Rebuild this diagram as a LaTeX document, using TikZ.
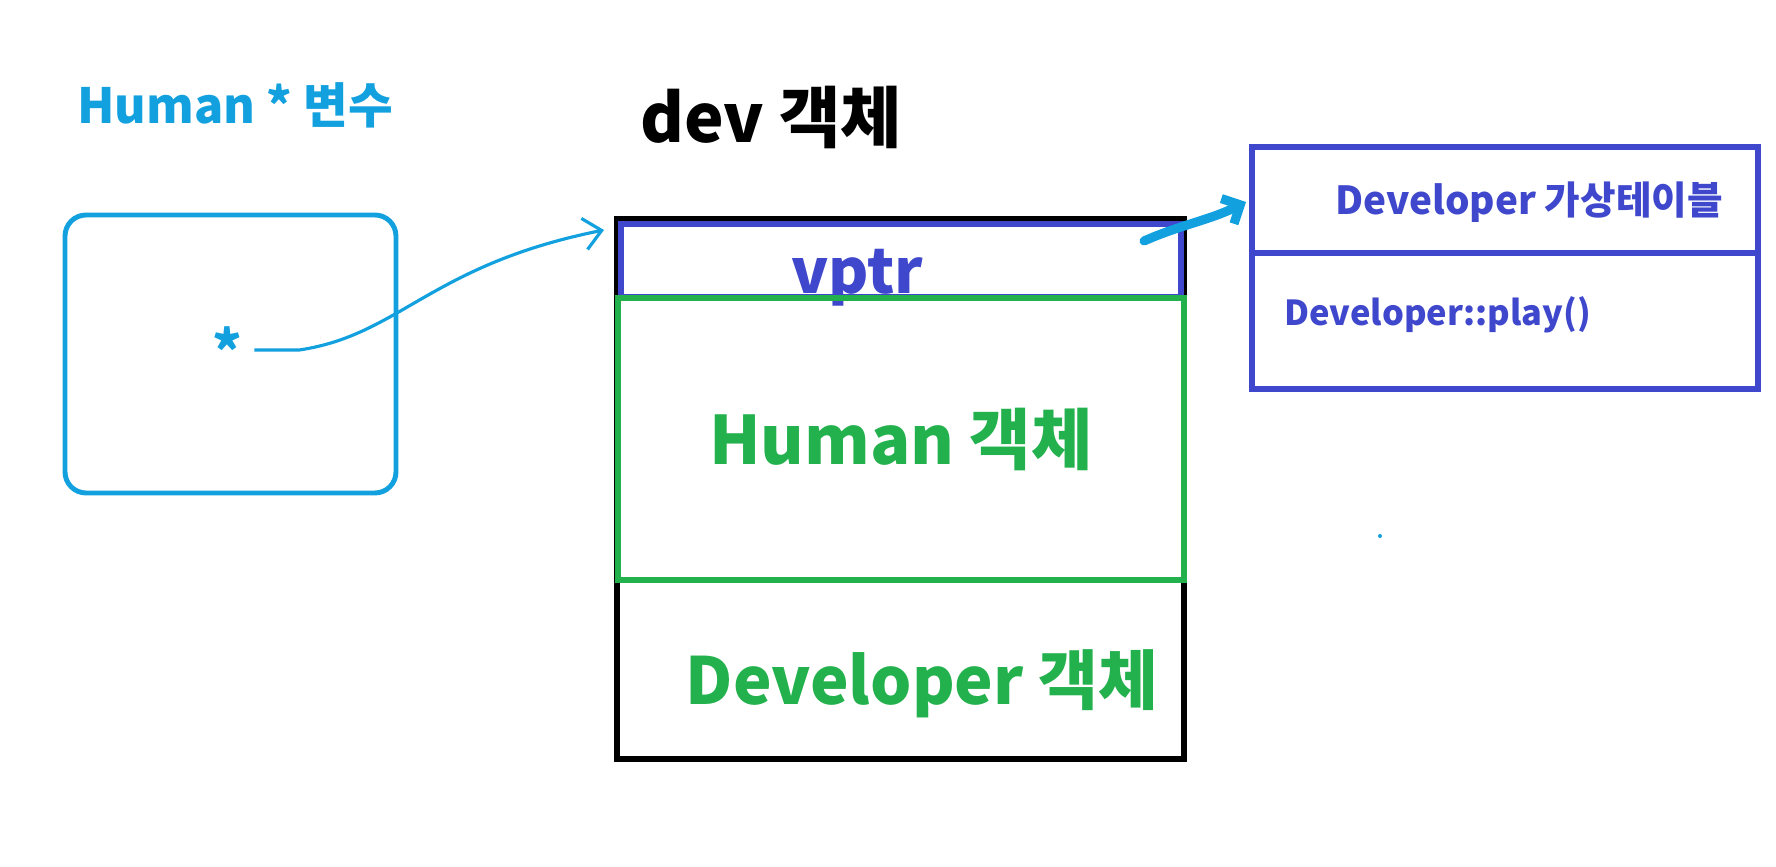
\documentclass[tikz,border=0pt]{standalone}
\usepackage{fontspec}
\setmainfont{Noto Sans CJK KR}
\usetikzlibrary{arrows.meta}

\definecolor{ptrblue}{RGB}{18,160,222}
\definecolor{vtblue}{RGB}{63,72,204}
\definecolor{objgreen}{RGB}{34,177,76}

\begin{document}
\begin{tikzpicture}[
        every node/.style={font=\bfseries},
        objbox/.style={draw, line width=1.5pt, shape=rectangle, inner sep=0pt},
        ptrarrow/.style={ptrblue, line width=0.9pt, -{Straight Barb[length=5pt,width=9pt]}},
        vtarrow/.style={ptrblue, line width=2.6pt, line cap=round, -{Straight Barb[length=4pt,width=8pt]}}
      ]
        \useasboundingbox (0, 0) rectangle (17.76, -8.67);

        % pointer variable
        \node[text=ptrblue, font=\bfseries\fontsize{13.8}{16}\selectfont] (ptrtitle) at (2.35, -1.05) {Human * 변수};
        \node[objbox, draw=ptrblue, line width=1.4pt, rounded corners=6pt, minimum width=3.31cm, minimum height=2.78cm] (ptrbox) at (2.305, -3.54) {};
        \node[text=ptrblue, font=\bfseries\fontsize{16}{18}\selectfont] (star) at (2.27, -3.50) {*};

        % dev object
        \node[font=\bfseries\fontsize{19}{22}\selectfont] (devtitle) at (7.71, -1.18) {dev 객체};
        \node[objbox, draw=black, line width=1.6pt, minimum width=5.67cm, minimum height=5.40cm] (devobj) at (9.005, -4.89) {};
        \node[objbox, draw=vtblue, minimum width=5.60cm, minimum height=0.73cm] (vptrbox) at (9.01, -2.605) {};
        \node[text=vtblue, anchor=base, font=\bfseries\fontsize{17.5}{20}\selectfont] (vptr) at (8.57, -2.94) {vptr};
        \node[objbox, draw=objgreen, line width=1.5pt, text=objgreen, minimum width=5.66cm, minimum height=2.82cm,
              font=\bfseries\fontsize{19}{22}\selectfont] (humanobj) at (9.01, -4.39) {Human 객체};
        \node[text=objgreen, font=\bfseries\fontsize{18.5}{22}\selectfont] (devpart) at (9.22, -6.84) {Developer 객체};

        % virtual table
        \node[objbox, draw=vtblue, line width=1.7pt, minimum width=5.06cm, minimum height=1.06cm] (vtabhead) at (15.05, -2.00) {};
        \node[objbox, draw=vtblue, line width=1.7pt, minimum width=5.06cm, minimum height=1.36cm] (vtabbody) at (15.05, -3.21) {};
        \node[text=vtblue, font=\bfseries\fontsize{11}{14}\selectfont] (vtabname) at (15.29, -2.02) {Developer 가상테이블};
        \node[text=vtblue, anchor=west, font=\bfseries\fontsize{9.8}{12}\selectfont] (vfunc) at (12.72, -3.15) {Developer::play()};

        % pointers
        \coordinate (ptrtip) at (6.04, -2.30);
        \coordinate (vtail) at (11.44, -2.41);
        \coordinate (vtip) at (12.46, -2.02);
        \draw[ptrarrow] (star.east) -- ++(0.45, 0) .. controls (4.0, -3.35) and (4.3, -2.65) .. (ptrtip);
        \draw[vtarrow] (vtail) .. controls (11.8, -2.25) and (12.1, -2.20) .. (vtip);

        \fill[ptrblue] (13.80, -5.36) circle (0.02);
      \end{tikzpicture}
\end{document}
